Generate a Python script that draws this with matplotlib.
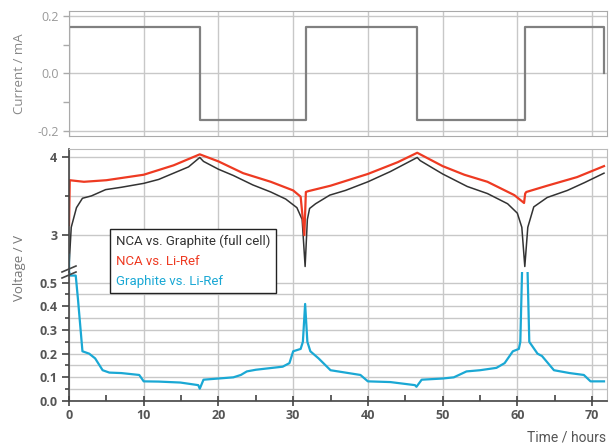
import matplotlib
matplotlib.use("Agg")
import matplotlib.pyplot as plt
from matplotlib.lines import Line2D
from matplotlib.ticker import MultipleLocator

# current protocol (mA)
t_cur = [0, 0, 17.5, 17.5, 31.7, 31.7, 46.6, 46.6, 61.0, 61.0, 71.6, 71.6]
i_cur = [0, 0.16, 0.16, -0.16, -0.16, 0.16, 0.16, -0.16, -0.16, 0.16, 0.16, 0]

# NCA vs. Graphite (full cell)
t_cell = [0, 0.3, 1, 1.8, 3, 4.9, 7, 10, 12, 14, 16, 17.5, 18, 20, 22, 24.6, 27, 29,
          30.5, 31.2, 31.6, 31.9, 32.2, 33, 34.9, 37, 40, 43, 46.6, 47, 50, 53.3, 56,
          58.7, 60, 60.6, 61, 61.4, 62.2, 64, 66.7, 69, 71.6]
v_cell = [2.6, 3.1, 3.35, 3.47, 3.5, 3.58, 3.61, 3.66, 3.71, 3.79, 3.87, 3.99, 3.94,
          3.84, 3.76, 3.64, 3.55, 3.46, 3.35, 3.2, 2.6, 3.2, 3.34, 3.40, 3.51, 3.57,
          3.68, 3.81, 3.99, 3.95, 3.78, 3.62, 3.53, 3.40, 3.28, 3.1, 2.6, 3.1, 3.36,
          3.48, 3.57, 3.67, 3.79]

# NCA vs. Li-Ref
t_nca = [0, 0.1, 2, 5, 10, 14, 17.5, 20, 23.3, 27, 30, 31, 31.5, 31.7, 32, 35, 40, 44,
         46.6, 50, 52.9, 56, 59.6, 60.9, 61.05, 61.2, 64, 68, 71.6]
v_nca = [3.13, 3.70, 3.68, 3.70, 3.77, 3.89, 4.03, 3.94, 3.79, 3.68, 3.57, 3.49, 3.0,
         3.55, 3.56, 3.63, 3.78, 3.93, 4.05, 3.88, 3.77, 3.68, 3.51, 3.41, 3.53, 3.55,
         3.63, 3.74, 3.88]

# Graphite vs. Li-Ref
t_gr = [0, 0.05, 0.9, 1.2, 1.8, 2.7, 3.5, 4.5, 5.4, 7, 9.4, 10, 12, 14.9, 17.3, 17.5,
        18, 20, 22, 23, 23.8, 25, 28.6, 29.5, 30, 31, 31.3, 31.6, 31.9, 32.3, 33.4, 35,
        37, 39, 40, 43, 46.3, 46.5, 47.2, 50, 51.5, 53.2, 55, 57.2, 58.3, 59.4, 60.2,
        60.4, 60.75, 61.25, 61.6, 62.7, 63.3, 64.9, 67, 68.9, 69.8, 71.6]
v_gr = [2.75, 0.53, 0.53, 0.43, 0.21, 0.20, 0.18, 0.13, 0.12, 0.118, 0.11, 0.083, 0.082,
        0.078, 0.067, 0.052, 0.09, 0.095, 0.1, 0.11, 0.125, 0.132, 0.145, 0.16, 0.21,
        0.22, 0.25, 0.41, 0.25, 0.21, 0.18, 0.13, 0.12, 0.11, 0.083, 0.08, 0.067, 0.06,
        0.09, 0.095, 0.1, 0.125, 0.13, 0.14, 0.16, 0.21, 0.22, 0.25, 0.7, 0.7, 0.25,
        0.2, 0.19, 0.13, 0.118, 0.11, 0.083, 0.083]

RED = "#ee3a22"
BLUE = "#1aa8d4"
BLACK = "#333333"
GRID = "#c8c8c8"

plt.rcParams["font.family"] = ["Open Sans", "DejaVu Sans"]
NARROW = ["Roboto", "DejaVu Sans"]

fig = plt.figure(figsize=(6.12, 4.44), dpi=100)
W, H = 612, 444


def box(l, t, r, b):
    return [l / W, 1 - b / H, (r - l) / W, (b - t) / H]


ax_cur = fig.add_axes(box(69, 11, 607, 136))
ax_hi = fig.add_axes(box(69, 149, 607, 272))
ax_lo = fig.add_axes(box(69, 272, 607, 401))

for ax in (ax_cur, ax_hi, ax_lo):
    ax.set_xlim(0, 72)
    ax.xaxis.set_major_locator(MultipleLocator(10))
    ax.grid(True, which="major", axis="x", color=GRID, lw=1)
    ax.set_axisbelow(True)

# current panel
ax_cur.plot(t_cur, i_cur, color="#808080", lw=1.6)
ax_cur.set_ylim(-0.217, 0.217)
ax_cur.set_yticks([-0.2, 0.0, 0.2])
ax_cur.set_yticklabels(["-0.2", "0.0", "0.2"])
ax_cur.yaxis.set_minor_locator(MultipleLocator(0.1))
ax_cur.grid(True, which="major", axis="y", color=GRID, lw=1)
ax_cur.tick_params(axis="x", length=0, labelbottom=False)
ax_cur.tick_params(axis="y", which="both", colors="#aaaaaa", labelcolor="#999999",
                   labelsize=9, length=4, width=1)
for s in ax_cur.spines.values():
    s.set_color("#aaaaaa")
ax_cur.set_ylabel("Current / mA", color="#888888", fontsize=9.5, labelpad=8)

# voltage panels (broken axis)
for ax in (ax_hi, ax_lo):
    ax.plot(t_cell, v_cell, color=BLACK, lw=1.1)
    ax.plot(t_nca, v_nca, color=RED, lw=1.6)
    ax.plot(t_gr, v_gr, color=BLUE, lw=1.6)
    ax.grid(True, which="both", axis="y", color=GRID, lw=1)
    ax.spines["right"].set_color("#bbbbbb")
    ax.spines["top"].set_color("#bbbbbb")
    ax.tick_params(axis="y", which="both", colors="#444444", labelcolor="#555555",
                   labelsize=9, width=1.2)
    ax.tick_params(axis="y", which="major", length=5)
    ax.tick_params(axis="y", which="minor", length=3)

ax_hi.set_ylim(2.53, 4.098)
ax_hi.set_yticks([3, 4])
ax_hi.set_yticklabels(["3", "4"], fontweight="bold")
ax_hi.yaxis.set_minor_locator(MultipleLocator(0.5))
ax_hi.spines["bottom"].set_visible(False)
ax_hi.tick_params(axis="x", length=0, labelbottom=False)
ax_hi.spines["left"].set_color("#444444")
ax_hi.spines["left"].set_linewidth(1.2)

ax_lo.set_ylim(0, 0.545)
ax_lo.set_yticks([0, 0.1, 0.2, 0.3, 0.4, 0.5])
ax_lo.set_yticklabels(["0.0", "0.1", "0.2", "0.3", "0.4", "0.5"], fontweight="bold")
ax_lo.yaxis.set_minor_locator(MultipleLocator(0.05))
ax_lo.xaxis.set_minor_locator(MultipleLocator(5))
ax_lo.spines["top"].set_visible(False)
for side in ("left", "bottom"):
    ax_lo.spines[side].set_color("#444444")
    ax_lo.spines[side].set_linewidth(1.2)
ax_lo.tick_params(axis="x", which="major", direction="inout", length=7, width=1.2,
                  colors="#444444", labelcolor="#555555", labelsize=9, pad=2)
ax_lo.tick_params(axis="x", which="minor", direction="in", length=4, width=1.2,
                  colors="#444444")
for lab in ax_lo.get_xticklabels():
    lab.set_fontweight("bold")

# axis break marks
for yb in (269, 275):
    fig.add_artist(Line2D([62 / W, 76 / W], [1 - (yb + 3) / H, 1 - (yb - 3) / H],
                          color="#444444", lw=1.2))

fig.text(20 / W, 1 - 268 / H, "Voltage / V", rotation=90, color="#777777",
         fontsize=9.5, ha="center", va="center")
fig.text(606 / W, 1 - 437 / H, "Time / hours", color="#555555", fontsize=10,
         ha="right", va="center", family=NARROW)

# legend (text only)
handles = [Line2D([], [], color=c, lw=0) for c in (BLACK, RED, BLUE)]
labels = ["NCA vs. Graphite (full cell)", "NCA vs. Li-Ref", "Graphite vs. Li-Ref"]
leg = fig.legend(handles, labels, loc="upper left",
                 bbox_to_anchor=(110 / W, 1 - 229 / H), bbox_transform=fig.transFigure,
                 borderaxespad=0, handlelength=0, handletextpad=0, fancybox=False,
                 framealpha=1, edgecolor="#222222", borderpad=0.45, labelspacing=0.5,
                 prop={"family": NARROW, "size": 9.5})
leg.get_frame().set_linewidth(1.0)
for txt, c in zip(leg.get_texts(), ("#333333", RED, BLUE)):
    txt.set_color(c)

fig.savefig("out.png", dpi=100)
